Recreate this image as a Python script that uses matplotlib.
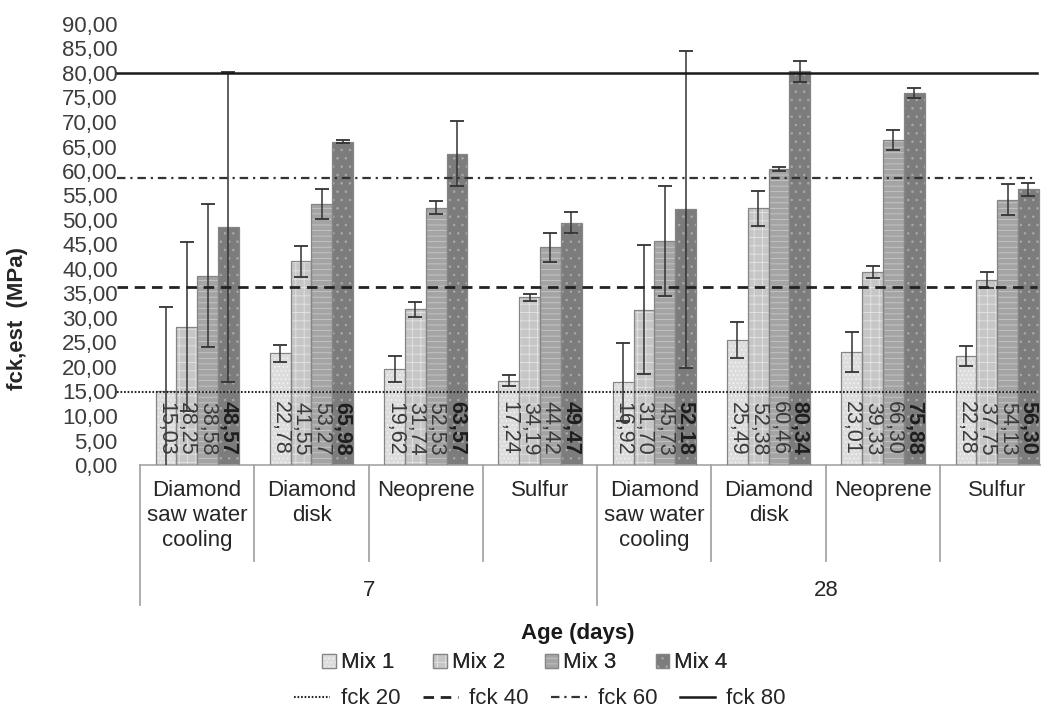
import matplotlib
matplotlib.use("Agg")
import matplotlib.pyplot as plt
from matplotlib.patches import Patch
from matplotlib.lines import Line2D
import numpy as np

plt.rcParams['font.family'] = ['Liberation Sans', 'DejaVu Sans']
plt.rcParams['hatch.linewidth'] = 0.6

# ---------------- data ----------------
methods = ["Diamond\nsaw water\ncooling", "Diamond\ndisk", "Neoprene", "Sulfur"]
ages = ["7", "28"]
series = ["Mix 1", "Mix 2", "Mix 3", "Mix 4"]

mix1 = [15.03, 22.78, 19.62, 17.24, 16.92, 25.49, 23.01, 22.28]
mix2 = [28.25, 41.55, 31.74, 34.19, 31.70, 52.38, 39.33, 37.75]
mix3 = [38.58, 53.27, 52.53, 44.42, 45.73, 60.46, 66.30, 54.13]
mix4 = [48.57, 65.98, 63.57, 49.47, 52.18, 80.34, 75.88, 56.30]

err1 = [17.3, 1.8, 2.7, 1.1, 7.9, 3.7, 4.1, 2.0]
err2 = [17.3, 3.1, 1.5, 0.7, 13.1, 3.6, 1.2, 1.6]
err3 = [14.6, 3.1, 1.3, 3.0, 11.3, 0.4, 2.0, 3.2]
err4 = [31.7, 0.3, 6.6, 2.1, 32.3, 2.2, 1.0, 1.3]

ref_names = ["fck 20", "fck 40", "fck 60", "fck 80"]
ref_values = [14.8, 36.4, 58.5, 80.0]

yticks = np.arange(0, 91, 5)

# ---------------- styling ----------------
FS = 16
face = ['#dcdcdc', '#c6c6c6', '#a4a4a4', '#7c7c7c']
hatch_col = ['#f4f4f4', '#e4e4e4', '#c8c8c8', '#a8a8a8']
hatches = ['....', '++', '---', '..']
outline = '#858585'
ref_styles = [(0, (0.8, 0.9)), (0, (3.8, 2.4)), (0, (3.8, 2.2, 1.0, 2.2)), '-']
ref_lw = [1.5, 2.0, 1.6, 1.8]
ref_col = ['#222222', '#222222', '#333333', '#1a1a1a']

fig = plt.figure(figsize=(10.41, 7.09), dpi=100)
W, H = 1041, 709
ax = fig.add_axes([140 / W, (H - 465) / H, 914.4 / W, 441 / H])

n = len(mix1)
x = np.arange(n)
bw = 0.182
vals = [mix1, mix2, mix3, mix4]
errs = [err1, err2, err3, err4]

handles = []
for i in range(4):
    xi = x + (i - 1.5) * bw
    ax.bar(xi, vals[i], bw, color=face[i], hatch=hatches[i],
           edgecolor=hatch_col[i], linewidth=0, zorder=2)
    ax.bar(xi, vals[i], bw, fill=False, edgecolor=outline,
           linewidth=0.9, zorder=3)
    ax.errorbar(xi, vals[i], yerr=errs[i], fmt='none', ecolor='#333333',
                elinewidth=1.1, capsize=5, capthick=1.3, zorder=5)
    for xx, v in zip(xi, vals[i]):
        ax.text(xx, 2.0, f"{v:.2f}".replace('.', ','), rotation=270,
                ha='center', va='bottom', fontsize=15.5,
                color='#1e1e1e' if i == 3 else '#3a3a3a',
                fontweight='bold' if i == 3 else 'normal', zorder=6)
    hp = Patch(facecolor=face[i], hatch=hatches[i], edgecolor=hatch_col[i], linewidth=0)
    op = Patch(fill=False, edgecolor=outline, linewidth=0.9)
    handles.append((hp, op))

# reference lines
line_handles = []
for v, ls, lw, c in zip(ref_values, ref_styles, ref_lw, ref_col):
    ax.plot([-0.70, 7.35], [v, v], linestyle=ls, lw=lw, color=c,
            clip_on=False, zorder=7)
    line_handles.append(Line2D([], [], linestyle=ls, lw=lw, color=c))

ax.set_xlim(-0.5, 7.5)
ax.set_ylim(0, 90)
ax.set_yticks(yticks)
ax.set_yticklabels([f"{t:.2f}".replace('.', ',') for t in yticks])
ax.tick_params(axis='y', length=0, pad=16, labelsize=FS, labelcolor='#3c3c3c')
ax.set_xticks([])
for s in ['top', 'right', 'left']:
    ax.spines[s].set_visible(False)
ax.spines['bottom'].set_color('#a6a6a6')
ax.spines['bottom'].set_linewidth(1.2)

ax.set_ylabel("fck,est  (MPa)", fontsize=FS, fontweight='bold', color='#262626')
ax.yaxis.set_label_coords(-(140 - 28) / 914.4, (465 - 318) / 441)

# multi-level category axis
tr = ax.get_xaxis_transform()
def fy(px):
    return -(px - 465) / 441.0

for k in range(n + 1):
    xb = k - 0.5
    ybot = 605 if k in (0, 4, 8) else 561
    ax.plot([xb, xb], [0, fy(ybot)], transform=tr, color='#a6a6a6',
            lw=1.3, clip_on=False, zorder=1)
for k in range(n):
    ax.text(k, fy(480), methods[k % 4], transform=tr, ha='center', va='top',
            fontsize=FS, color='#262626', linespacing=1.25)
for j, a in enumerate(ages):
    ax.text(j * 4 + 1.5, fy(590), a, transform=tr, ha='center', va='center',
            fontsize=FS, color='#262626')

fig.text(578 / W, 1 - 633 / H, "Age (days)", ha='center', va='center',
         fontsize=FS, fontweight='bold', color='#1a1a1a')

leg1 = fig.legend(handles, series, loc='center', bbox_to_anchor=(525 / W, 1 - 663 / H),
                  ncol=4, frameon=False, fontsize=FS, handlelength=0.6,
                  handleheight=0.6, handletextpad=0.25, columnspacing=1.75,
                  borderpad=0.1, labelcolor='#262626')
leg2 = fig.legend(line_handles, ref_names, loc='center', bbox_to_anchor=(540 / W, 1 - 699 / H),
                  ncol=4, frameon=False, fontsize=FS, handlelength=1.6,
                  handletextpad=0.5, columnspacing=1.0, borderpad=0.1,
                  labelcolor='#262626')
fig.add_artist(leg1)

fig.savefig("out.png", dpi=100)
